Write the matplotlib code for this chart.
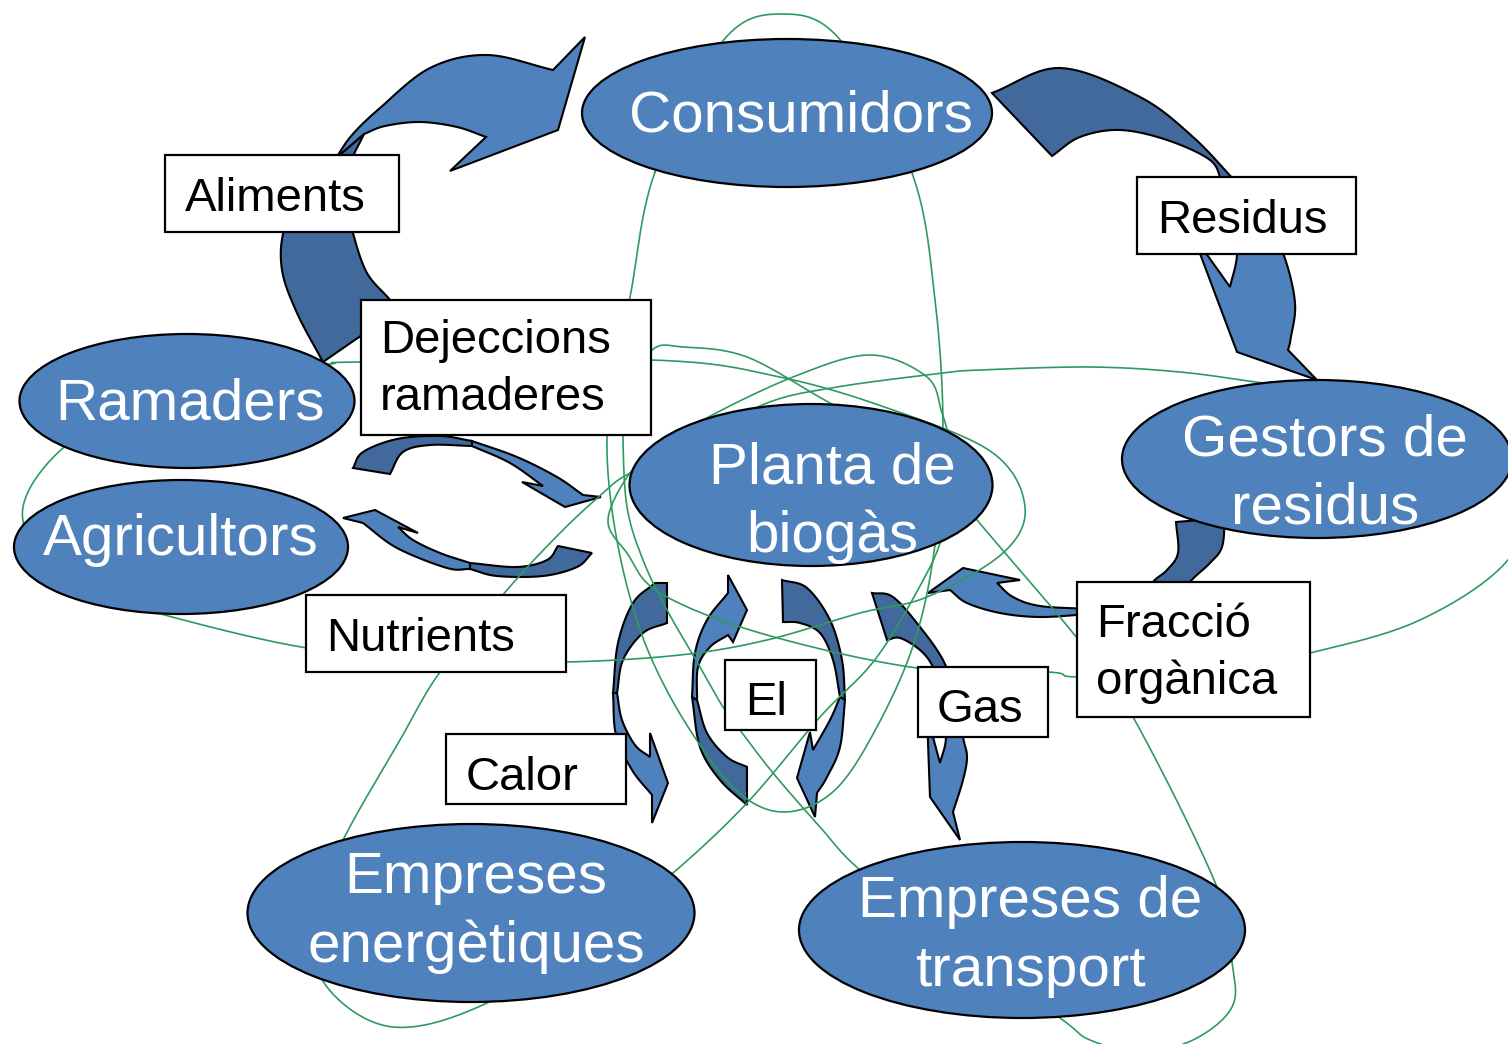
import numpy as np
import matplotlib
matplotlib.use("Agg")
import matplotlib.pyplot as plt
from matplotlib.patches import Ellipse, Rectangle, Polygon

# ---------------- content ----------------
actors = ["Consumidors", "Ramaders", "Agricultors", "Planta de\nbiogàs",
          "Gestors de\nresidus", "Empreses\nenergètiques", "Empreses de\ntransport"]
flows = ["Aliments", "Residus", "Dejeccions\nramaderes", "Nutrients",
         "Calor", "El", "Gas", "Fracció\norgànica"]

# ---------------- style ----------------
FONT = ["Liberation Sans", "DejaVu Sans"]
BLUE = "#4f81bd"
DARK = "#41699b"
GREEN = "#2e9a5f"
W, H = 1508, 1044

# layout (pixel coordinates, y downwards)
actor_geom = [  # centre x, centre y, width, height, text x, first baseline
    (787, 113, 410, 148, 801, 132),
    (187, 401, 335, 134, 190, 420),
    (181, 547, 334, 134, 181, 555),
    (811, 485, 363, 162, 832, 483),
    (1317, 459, 390, 158, 1325, 455),
    (471, 913, 447, 178, 476, 893),
    (1022, 930, 446, 176, 1030, 917),
]
flow_geom = [  # x0, y0, x1, y1, text x, first baseline
    (165, 155, 399, 232, 185, 211),
    (1137, 177, 1356, 254, 1157, 233),
    (361, 300, 651, 435, 380, 353),
    (306, 595, 566, 672, 326, 651),
    (446, 734, 626, 804, 466, 790),
    (725, 660, 816, 730, 745, 715),
    (918, 667, 1048, 737, 937, 722),
    (1077, 582, 1310, 717, 1096, 637),
]
ACT_FS = 42
FLOW_FS = 34
ACT_LS = 69
FLOW_LS = 57


def cr(pts, n=14, closed=False):
    P = np.asarray(pts, float)
    if len(P) < 2:
        return P
    if closed:
        P = np.vstack([P[-1], P, P[0], P[1]])
    else:
        P = np.vstack([2 * P[0] - P[1], P, 2 * P[-1] - P[-2]])
    out = []
    for i in range(1, len(P) - 2):
        p0, p1, p2, p3 = P[i - 1], P[i], P[i + 1], P[i + 2]
        for t in np.linspace(0, 1, n, endpoint=False):
            t2, t3 = t * t, t * t * t
            out.append(0.5 * (2 * p1 + (-p0 + p2) * t + (2 * p0 - 5 * p1 + 4 * p2 - p3) * t2
                              + (-p0 + 3 * p1 - 3 * p2 + p3) * t3))
    if not closed:
        out.append(P[-2])
    return np.array(out)


def shape(segs):
    parts = []
    for kind, pts in segs:
        parts.append(cr(pts) if kind == "s" else np.asarray(pts, float))
    return np.vstack(parts)


# block arrows (light = front face, dark = back face)
arrows = [
    # Aliments
    (DARK, [("s", [(323, 362), (297, 313), (282, 270), (284, 230), (303, 192), (336, 158)]),
            ("s", [(364, 134), (350, 165), (347, 200), (353, 233), (367, 273), (390, 300), (398, 315)]),
            ("p", [(362, 335)])]),
    (BLUE, [("s", [(336, 158), (352, 135), (380, 108), (430, 68), (487, 55), (553, 70)]),
            ("p", [(585, 37), (558, 130), (450, 171)]),
            ("s", [(486, 137), (457, 127), (420, 122), (385, 126), (364, 134)])]),
    # Residus
    (DARK, [("s", [(992, 93), (1060, 68), (1140, 97), (1193, 137), (1236, 182)]),
            ("s", [(1222, 182), (1210, 160), (1167, 140), (1120, 130), (1080, 137), (1052, 156)])]),
    (BLUE, [("s", [(1236, 182), (1262, 215), (1283, 253), (1295, 303), (1290, 343)]),
            ("p", [(1288, 350), (1317, 380), (1237, 352), (1193, 235), (1230, 287)]),
            ("s", [(1230, 287), (1237, 255), (1235, 215), (1222, 182)])]),
    # Dejeccions loop arrow
    (DARK, [("s", [(353, 468), (363, 452), (397, 439), (440, 436), (472, 441)]),
            ("s", [(472, 446), (430, 445), (403, 452), (390, 474)])]),
    (BLUE, [("s", [(472, 441), (517, 457), (557, 477), (583, 495)]),
            ("p", [(601, 497), (565, 507), (522, 482), (543, 486)]),
            ("s", [(543, 486), (510, 463), (472, 446)])]),
    # Nutrients loop arrow
    (DARK, [("s", [(470, 563), (517, 567), (547, 560), (558, 546)]),
            ("s", [(592, 553), (577, 567), (543, 576), (497, 576), (470, 569)])]),
    (BLUE, [("p", [(343, 518), (375, 510), (418, 533), (398, 527)]),
            ("s", [(398, 527), (413, 540), (440, 553), (470, 563)]),
            ("s", [(470, 569), (447, 568), (397, 548), (363, 523)])]),
    # Calor
    (DARK, [("s", [(655, 583), (633, 603), (618, 643), (613, 693)]),
            ("s", [(617, 693), (623, 660), (643, 633), (667, 623)]),
            ("p", [(667, 583)])]),
    (BLUE, [("s", [(613, 693), (616, 735), (632, 770), (652, 795)]),
            ("p", [(652, 823), (668, 783), (650, 733), (650, 757)]),
            ("s", [(650, 757), (635, 745), (622, 720), (617, 693)])]),
    # El (up)
    (DARK, [("s", [(747, 805), (720, 780), (700, 747), (692, 697)]),
            ("s", [(697, 700), (707, 733), (727, 757), (747, 767)])]),
    (BLUE, [("s", [(692, 697), (695, 653), (707, 620), (728, 593)]),
            ("p", [(728, 575), (747, 610), (733, 642), (728, 635)]),
            ("s", [(728, 635), (710, 647), (698, 667), (697, 700)])]),
    # El (down)
    (DARK, [("s", [(782, 580), (807, 588), (830, 620), (842, 660), (845, 700)]),
            ("s", [(840, 697), (833, 660), (820, 633), (800, 623), (783, 622)])]),
    (BLUE, [("s", [(845, 700), (840, 747), (827, 777), (817, 793)]),
            ("p", [(815, 817), (797, 778), (810, 732), (813, 750)]),
            ("s", [(813, 750), (830, 720), (840, 697)])]),
    # Gas
    (DARK, [("s", [(872, 593), (893, 597), (920, 627), (943, 660), (956, 695)]),
            ("s", [(942, 695), (933, 667), (920, 650), (900, 638), (887, 640)])]),
    (BLUE, [("s", [(956, 695), (963, 737), (967, 757), (963, 780), (953, 812)]),
            ("p", [(960, 840), (930, 797), (927, 715), (940, 763)]),
            ("s", [(940, 763), (946, 737), (942, 695)])]),
    # Gestors -> Fracció
    (DARK, [("s", [(1176, 522), (1178, 553), (1167, 570), (1153, 582), (1140, 603)]),
            ("s", [(1178, 603), (1190, 582), (1210, 563), (1222, 547), (1225, 518)])]),
    # Fracció -> Planta
    (BLUE, [("p", [(928, 593), (963, 568), (1020, 580), (997, 583)]),
            ("s", [(997, 583), (1013, 597), (1040, 606), (1090, 609)]),
            ("s", [(1090, 614), (1040, 617), (1000, 613), (967, 603), (950, 590)])]),
]

# thin green connector loops
green_paths = [
    ([(655, 172), (722, 42), (782, 14), (842, 42), (912, 173), (935, 300), (943, 430),
      (935, 545), (915, 640), (878, 725), (835, 790), (785, 812), (738, 792), (690, 730),
      (652, 660), (628, 590), (612, 510), (607, 437), (615, 360), (630, 297)], True),
    ([(307, 648), (157, 613), (100, 593), (43, 557), (23, 507), (63, 448), (150, 395),
      (250, 370), (330, 364), (360, 362), (652, 360), (780, 377), (893, 410), (993, 453),
      (1025, 507), (1003, 553), (927, 597), (860, 613), (767, 640), (680, 655), (566, 662),
      (450, 660)], True),
    ([(652, 350), (683, 347), (747, 357), (830, 403), (920, 450), (977, 520), (1077, 638),
      (1133, 717), (1217, 887), (1232, 962), (1232, 1007), (1193, 1040), (1140, 1052),
      (1090, 1040), (1060, 1018), (950, 940), (860, 870), (820, 827), (773, 773),
      (740, 730), (723, 707), (700, 667), (667, 610), (643, 560), (627, 507), (623, 437),
      (625, 395)], True),
    ([(1263, 383), (1180, 372), (1090, 367), (980, 370), (943, 373), (837, 387), (767, 403),
      (700, 440), (630, 473), (603, 493), (560, 533), (507, 590), (440, 672), (400, 740),
      (343, 840), (310, 920), (327, 987), (393, 1027), (487, 1003), (600, 930), (673, 873),
      (747, 803), (820, 717), (877, 657), (927, 573), (945, 530)], False),
    ([(950, 440), (942, 413), (927, 377), (870, 355), (793, 377), (703, 420), (660, 450),
      (630, 473), (608, 520), (627, 553), (660, 593), (760, 633), (917, 668), (1048, 672),
      (1078, 677), (1200, 675), (1310, 653), (1420, 620), (1508, 560), (1540, 480)], False),
]

# ---------------- draw ----------------
plt.rcParams["font.family"] = FONT
fig = plt.figure(figsize=(W / 100, H / 100), dpi=100)
ax = fig.add_axes([0, 0, 1, 1])
ax.set_xlim(0, W)
ax.set_ylim(H, 0)
ax.axis("off")

for color, segs in arrows:
    ax.add_patch(Polygon(shape(segs), closed=True, facecolor=color, edgecolor="black",
                         linewidth=1.5, joinstyle="miter", zorder=1))

for pts, closed in green_paths:
    c = cr(pts, n=20, closed=closed)
    if closed:
        c = np.vstack([c, c[:1]])
    ax.plot(c[:, 0], c[:, 1], color=GREEN, lw=1.2, zorder=2, solid_capstyle="round")

for name, (cx, cy, w, h, tx, by) in zip(actors, actor_geom):
    ax.add_patch(Ellipse((cx, cy), w, h, facecolor=BLUE, edgecolor="black",
                         linewidth=1.6, zorder=3))
    for i, line in enumerate(name.split("\n")):
        ax.text(tx, by + i * ACT_LS, line, color="white", fontsize=ACT_FS,
                ha="center", va="baseline", zorder=4)

for name, (x0, y0, x1, y1, tx, by) in zip(flows, flow_geom):
    ax.add_patch(Rectangle((x0, y0), x1 - x0, y1 - y0, facecolor="white",
                           edgecolor="black", linewidth=1.6, zorder=5))
    for i, line in enumerate(name.split("\n")):
        ax.text(tx, by + i * FLOW_LS, line, color="black", fontsize=FLOW_FS,
                ha="left", va="baseline", zorder=6)

fig.savefig("out.png", dpi=100)
